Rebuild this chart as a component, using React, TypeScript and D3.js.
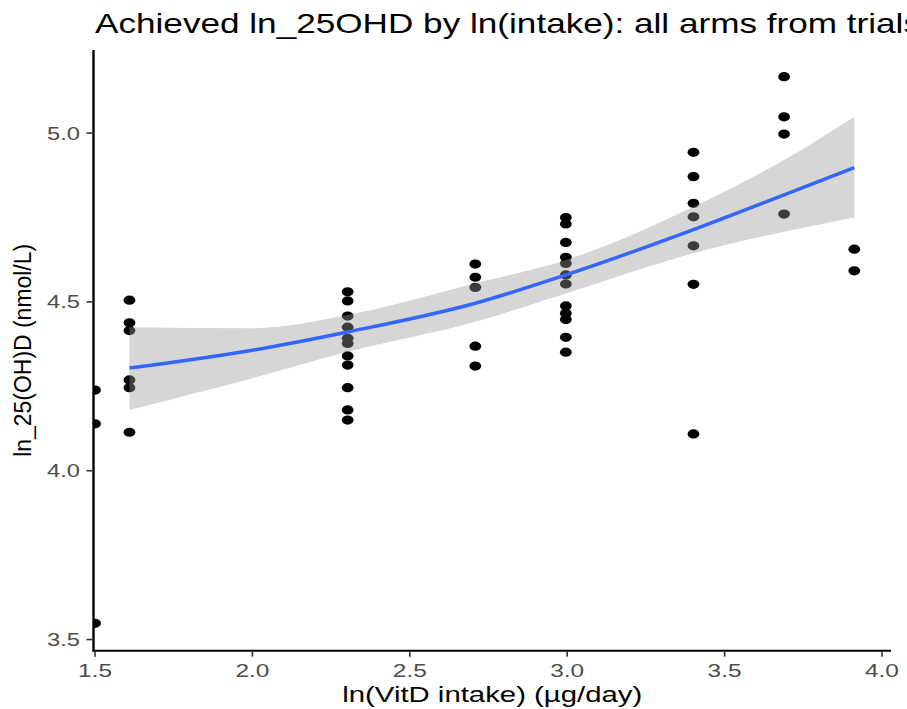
import React from "react";
import * as d3 from "d3";

// ---- data ----
const title = "Achieved ln_25OHD by ln(intake): all arms from trials";
const xLabel = "ln(VitD intake) (µg/day)";
const yLabel = "ln_25(OH)D (nmol/L)";

const xTicks = [1.5, 2.0, 2.5, 3.0, 3.5, 4.0];
const yTicks = [3.5, 4.0, 4.5, 5.0];

const armX = [1.5, 1.6094, 2.3026, 2.7081, 2.9957, 3.4012, 3.6889, 3.912];
const armY: number[][] = [
  [4.239, 4.139, 3.548],
  [4.505, 4.438, 4.415, 4.269, 4.246, 4.114],
  [4.530, 4.503, 4.458, 4.425, 4.392, 4.377, 4.340, 4.313, 4.246, 4.180, 4.150],
  [4.612, 4.573, 4.543, 4.369, 4.310],
  [4.750, 4.731, 4.676, 4.632, 4.614, 4.580, 4.553, 4.488, 4.466, 4.448, 4.395, 4.351],
  [4.943, 4.871, 4.792, 4.752, 4.666, 4.552, 4.109],
  [5.167, 5.048, 4.997, 4.760],
  [4.656, 4.592],
];

// smoother (fit, lower and upper band)
const fitX = [1.6094, 2.0, 2.3026, 2.7081, 2.9957, 3.4012, 3.6889, 3.912];
const fitY = [4.304, 4.357, 4.411, 4.496, 4.580, 4.714, 4.817, 4.898];
const fitLo = [4.180, 4.274, 4.352, 4.441, 4.525, 4.644, 4.708, 4.750];
const fitHi = [4.425, 4.422, 4.461, 4.555, 4.624, 4.782, 4.920, 5.048];

const xDomain = [1.4952, 4.0286];
const yDomain = [3.467, 5.246];

export default function App() {
  const W = 907;
  const H = 709;
  const left = 93.5;
  const right = 891;
  const top = 50;
  const bottom = 650.7;

  const x = d3.scaleLinear().domain(xDomain).range([left, right]);
  const y = d3.scaleLinear().domain(yDomain).range([bottom, top]);

  const points = armX.flatMap((xv, i) => armY[i].map((yv) => ({ x: xv, y: yv })));
  const band = fitX.map((xv, i) => ({ x: xv, lo: fitLo[i], hi: fitHi[i], f: fitY[i] }));

  const area = d3
    .area<any>()
    .x((d) => x(d.x))
    .y0((d) => y(d.lo))
    .y1((d) => y(d.hi))
    .curve(d3.curveMonotoneX);
  const line = d3
    .line<any>()
    .x((d) => x(d.x))
    .y((d) => y(d.f))
    .curve(d3.curveMonotoneX);

  const font = "'Liberation Sans', Arial, Helvetica, sans-serif";

  return (
    <svg
      width={W}
      height={H}
      style={{ position: "absolute", left: 0, top: 0, background: "#fff" }}
      fontFamily={font}
    >
      <defs>
        <clipPath id="panel">
          <rect x={left} y={top} width={right - left} height={bottom - top} />
        </clipPath>
      </defs>
      <rect x={0} y={0} width={W} height={H} fill="#fff" />

      <g clipPath="url(#panel)">
        {points.map((p, i) => (
          <ellipse key={i} cx={x(p.x)} cy={y(p.y)} rx={5.9} ry={4.6} fill="#000" />
        ))}
        <path d={area(band) || ""} fill="#999999" fillOpacity={0.4} />
        <path d={line(band) || ""} fill="none" stroke="#3366FF" strokeWidth={3.5} />
      </g>

      {/* axes */}
      <line x1={left} x2={left} y1={top} y2={bottom + 1} stroke="#000" strokeWidth={2.4} />
      <line x1={left - 1} x2={right} y1={bottom} y2={bottom} stroke="#000" strokeWidth={2} />

      {yTicks.map((t) => (
        <g key={"y" + t}>
          <line x1={left - 7} x2={left} y1={y(t)} y2={y(t)} stroke="#333" strokeWidth={1.6} />
          <text
            x={80}
            y={y(t) + 6.5}
            textAnchor="end"
            fontSize={18}
            fill="#4D4D4D"
            textLength={33}
            lengthAdjust="spacingAndGlyphs"
          >
            {t.toFixed(1)}
          </text>
        </g>
      ))}
      {xTicks.map((t) => (
        <g key={"x" + t}>
          <line x1={x(t)} x2={x(t)} y1={bottom} y2={bottom + 6} stroke="#333" strokeWidth={1.6} />
          <text
            x={x(t)}
            y={677}
            textAnchor="middle"
            fontSize={18}
            fill="#4D4D4D"
            textLength={34}
            lengthAdjust="spacingAndGlyphs"
          >
            {t.toFixed(1)}
          </text>
        </g>
      ))}

      <text
        x={(left + right) / 2}
        y={702}
        textAnchor="middle"
        fontSize={22}
        fill="#000"
        textLength={300}
        lengthAdjust="spacingAndGlyphs"
      >
        {xLabel}
      </text>
      <text
        transform={`translate(30.5, ${(top + bottom) / 2}) rotate(-90)`}
        textAnchor="middle"
        fontSize={23.5}
        fill="#000"
        textLength={213}
        lengthAdjust="spacingAndGlyphs"
      >
        {yLabel}
      </text>
      <text
        x={95}
        y={33}
        fontSize={28}
        fill="#000"
        textLength={826}
        lengthAdjust="spacingAndGlyphs"
      >
        {title}
      </text>
    </svg>
  );
}
